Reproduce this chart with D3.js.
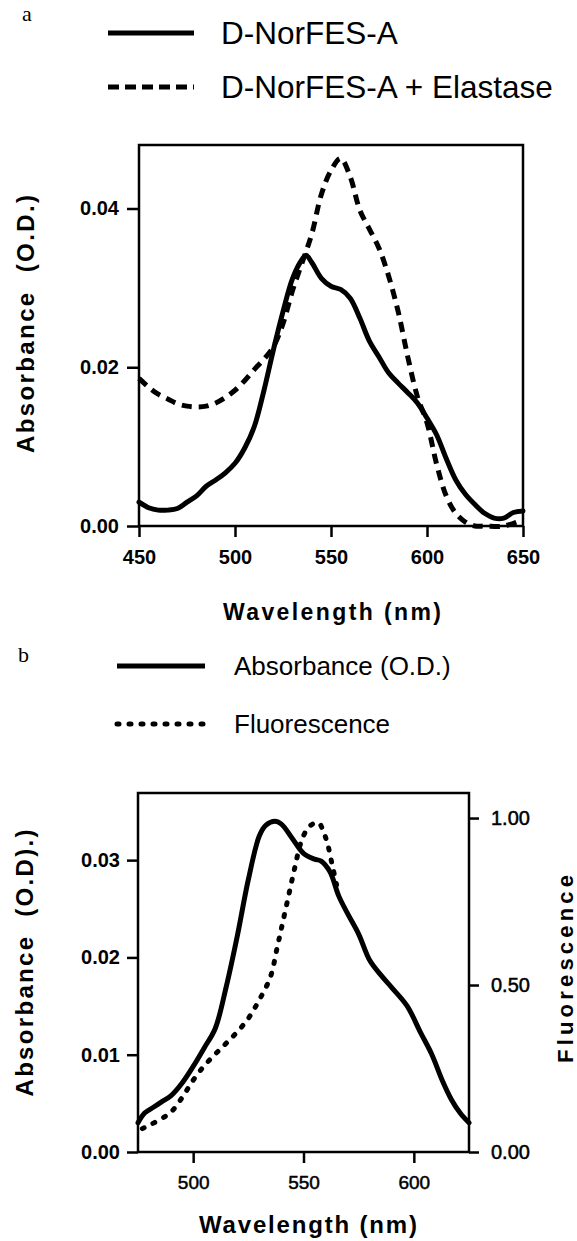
<!DOCTYPE html>
<html>
<head>
<meta charset="utf-8">
<script src="https://cdn.jsdelivr.net/npm/d3@7"></script>
<style>
body { margin: 0; background: #fff; }
svg { display: block; }
text { font-family: "Liberation Sans", Arial, Helvetica, sans-serif; fill: #000; }
</style>
</head>
<body>
<div id="chart"></div>
<script>
// panel a: D-NorFES-A absorbance, with and without elastase
var waveA = [450,455,460,465,470,475,480,485,490,495,500,505,510,515,520,525,530,535,537,540,545,550,555,560,565,570,575,580,585,590,595,600,605,610,615,620,625,630,635,640,645,650];
var absA = [0.003,0.0023,0.002,0.002,0.0022,0.003,0.0038,0.005,0.0058,0.0067,0.0079,0.0098,0.0125,0.017,0.0222,0.027,0.0312,0.0336,0.0341,0.0332,0.0312,0.0302,0.0298,0.0287,0.0262,0.0233,0.0213,0.0193,0.018,0.0168,0.0155,0.0136,0.0115,0.0085,0.0058,0.004,0.0027,0.0016,0.001,0.001,0.0017,0.0019];
var waveAE = [450,455,460,465,470,475,480,485,490,495,500,505,510,515,520,525,530,535,540,545,550,555,560,565,570,575,580,585,590,595,600,605,610,615,620,625,630,640,650];
var absAE = [0.0186,0.0175,0.0166,0.016,0.0154,0.0151,0.015,0.0151,0.0155,0.0162,0.0171,0.0183,0.0197,0.021,0.0226,0.0255,0.0297,0.0332,0.0368,0.0418,0.0448,0.0463,0.044,0.0398,0.0374,0.035,0.0315,0.027,0.0213,0.0163,0.013,0.0078,0.0038,0.0016,0.0005,0,0,0,0.0008];
var legendA = ["D-NorFES-A", "D-NorFES-A + Elastase"];
var xTicksA = [450,500,550,600,650];
var yTicksA = [0,0.02,0.04];

// panel b: absorbance vs fluorescence
var waveB = [475,478,482,486,490,495,500,505,510,515,520,525,530,533,537,540,545,550,555,558,562,566,570,575,580,585,590,597,603,608,613,617,621,625];
var absB = [0.003,0.004,0.0046,0.0052,0.0058,0.0071,0.0088,0.0107,0.0127,0.017,0.0222,0.028,0.0325,0.0336,0.034,0.0337,0.0322,0.0307,0.0301,0.0299,0.0288,0.0263,0.0245,0.0224,0.0197,0.0182,0.0169,0.015,0.0123,0.0101,0.0073,0.0054,0.004,0.003];
var waveF = [477,480,485,490,495,500,505,510,515,520,525,530,535,538,540,543,546,549,552,555,557,559,561,563,565];
var fluorB = [0.07,0.08,0.097,0.12,0.163,0.215,0.258,0.293,0.326,0.36,0.4,0.456,0.524,0.61,0.67,0.76,0.85,0.93,0.97,0.985,0.985,0.96,0.92,0.86,0.8];
var legendB = ["Absorbance (O.D.)", "Fluorescence"];
var xTicksB = [500,550,600];
var yTicksB = [0,0.01,0.02,0.03];
var fTicksB = [0,0.5,1];

var svg = d3.select("#chart").append("svg")
    .attr("width", 577)
    .attr("height", 1241);

var fmt = d3.format(".2f");

function styleAxis(g, size, bold){
    g.select(".domain").remove();
    g.selectAll(".tick line").attr("stroke", "#000").attr("stroke-width", 2.5);
    g.selectAll(".tick text")
        .style("font-size", size + "px")
        .style("font-weight", bold ? "bold" : "normal")
        .attr("stroke", bold ? "none" : "#000")
        .attr("stroke-width", 0.5)
        .attr("font-family", null);
}

function drawLine(g, xs, ys, x, y, dash, cap){
    var line = d3.line()
        .x(function(d){ return x(d[0]); })
        .y(function(d){ return y(d[1]); })
        .curve(d3.curveCatmullRom);
    g.append("path")
        .attr("fill", "none")
        .attr("stroke", "#000")
        .attr("stroke-width", 5)
        .attr("stroke-linejoin", "round")
        .attr("stroke-linecap", cap || "round")
        .attr("stroke-dasharray", dash)
        .attr("d", line(d3.zip(xs, ys)));
}

function legend(g, labels, x0, x1, tx, ys, dashes, caps, size){
    labels.forEach(function(l, i){
        g.append("line")
            .attr("x1", x0).attr("x2", x1)
            .attr("y1", ys[i]).attr("y2", ys[i])
            .attr("stroke", "#000")
            .attr("stroke-width", 5)
            .attr("stroke-linecap", caps[i])
            .attr("stroke-dasharray", dashes[i]);
        g.append("text")
            .attr("x", tx)
            .attr("y", ys[i] + size * 0.36)
            .style("font-size", size + "px")
            .text(l);
    });
}

// ---- panel a ----
(function(){
    var L = 139, R = 523, T = 145, B = 526;
    var x = d3.scaleLinear().domain([450, 650]).range([L, R]);
    var y = d3.scaleLinear().domain([0, 0.048]).range([B, T]);

    svg.append("text")
        .attr("x", 22).attr("y", 21)
        .style("font-family", "'Liberation Serif', 'Times New Roman', serif")
        .style("font-size", "22px")
        .text("a");
    legend(svg, legendA, 108, 194, 221, [33, 87], [null, "11 6"], ["butt", "butt"], 31.5);

    var g = svg.append("g");
    g.append("g")
        .attr("transform", "translate(0," + B + ")")
        .call(d3.axisBottom(x).tickValues(xTicksA).tickSize(11).tickPadding(13).tickFormat(d3.format("d")))
        .call(styleAxis, 20, true);
    g.append("g")
        .attr("transform", "translate(" + L + ",0)")
        .call(d3.axisLeft(y).tickValues(yTicksA).tickSize(12).tickPadding(8).tickFormat(fmt))
        .call(styleAxis, 20, true);

    g.append("rect")
        .attr("x", L).attr("y", T)
        .attr("width", R - L).attr("height", B - T)
        .attr("fill", "none")
        .attr("stroke", "#000")
        .attr("stroke-width", 2.5);

    drawLine(g, waveAE, absAE, x, y, "10 7", "butt");
    drawLine(g, waveA, absA, x, y, null);

    g.append("text")
        .attr("transform", "translate(34," + 324 + ") rotate(-90)")
        .attr("text-anchor", "middle")
        .attr("textLength", 258)
        .attr("lengthAdjust", "spacing")
        .style("font-size", "24px").style("font-weight", "bold")
        .style("white-space", "pre")
        .text("Absorbance  (O.D.)");
    g.append("text")
        .attr("x", 332).attr("y", 620)
        .attr("text-anchor", "middle")
        .attr("textLength", 218)
        .attr("lengthAdjust", "spacing")
        .style("font-size", "23px").style("font-weight", "bold")
        .text("Wavelength (nm)");
})();

// ---- panel b ----
(function(){
    var L = 138, R = 469, T = 793, B = 1152;
    var x = d3.scaleLinear().domain([475, 625]).range([L, R]);
    var y = d3.scaleLinear().domain([0, 0.0369]).range([B, T]);
    var yf = d3.scaleLinear().domain([0, 1.075]).range([B, T]);

    svg.append("text")
        .attr("x", 18).attr("y", 662)
        .style("font-family", "'Liberation Serif', 'Times New Roman', serif")
        .style("font-size", "22px")
        .text("b");
    legend(svg, legendB, 117, 205, 234, [666, 724], [null, "2 10"], ["butt", "round"], 26);

    var g = svg.append("g");
    g.append("g")
        .attr("transform", "translate(0," + B + ")")
        .call(d3.axisBottom(x).tickValues(xTicksB).tickSize(11).tickPadding(13).tickFormat(d3.format("d")))
        .call(styleAxis, 19, false);
    g.append("g")
        .attr("transform", "translate(" + L + ",0)")
        .call(d3.axisLeft(y).tickValues(yTicksB).tickSize(11).tickPadding(7).tickFormat(fmt))
        .call(styleAxis, 20, true);
    g.append("g")
        .attr("transform", "translate(" + R + ",0)")
        .call(d3.axisRight(yf).tickValues(fTicksB).tickSize(10).tickPadding(12).tickFormat(fmt))
        .call(styleAxis, 20, false);

    g.append("rect")
        .attr("x", L).attr("y", T)
        .attr("width", R - L).attr("height", B - T)
        .attr("fill", "none")
        .attr("stroke", "#000")
        .attr("stroke-width", 2.5);

    drawLine(g, waveF, fluorB, x, yf, "2 10");
    drawLine(g, waveB, absB, x, y, null);

    g.append("text")
        .attr("transform", "translate(33," + 963 + ") rotate(-90)")
        .attr("text-anchor", "middle")
        .attr("textLength", 267)
        .attr("lengthAdjust", "spacing")
        .style("font-size", "24px").style("font-weight", "bold")
        .style("white-space", "pre")
        .text("Absorbance  (O.D).)");
    g.append("text")
        .attr("transform", "translate(573," + 969 + ") rotate(-90)")
        .attr("text-anchor", "middle")
        .attr("textLength", 188)
        .attr("lengthAdjust", "spacing")
        .style("font-size", "22px").style("font-weight", "bold")
        .text("Fluorescence");
    g.append("text")
        .attr("x", 308).attr("y", 1233)
        .attr("text-anchor", "middle")
        .attr("textLength", 218)
        .attr("lengthAdjust", "spacing")
        .style("font-size", "24px").style("font-weight", "bold")
        .text("Wavelength (nm)");
})();
</script>
</body>
</html>
